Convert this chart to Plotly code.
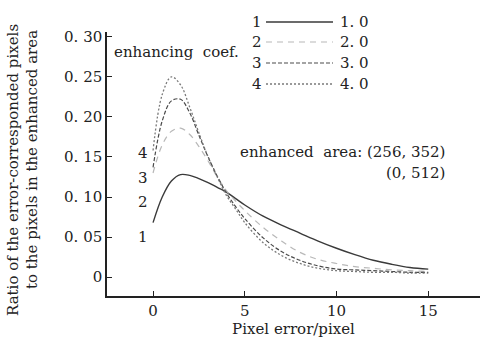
import plotly.graph_objects as go

# ---- data ----
x_vals = [0, 0.5, 1, 1.5, 2, 2.5, 3, 3.5, 4, 4.5, 5, 6, 7, 8, 9, 10, 11, 12, 13, 14, 15]
coef_labels = ["1. 0", "2. 0", "3. 0", "4. 0"]
curve_ids = ["1", "2", "3", "4"]
y_coef1 = [0.068, 0.100, 0.120, 0.128, 0.127, 0.123, 0.118, 0.112, 0.106, 0.098, 0.090,
           0.076, 0.065, 0.055, 0.045, 0.036, 0.028, 0.021, 0.016, 0.012, 0.010]
y_coef2 = [0.130, 0.165, 0.182, 0.186, 0.178, 0.163, 0.145, 0.125, 0.108, 0.095, 0.083,
           0.062, 0.045, 0.031, 0.022, 0.017, 0.013, 0.011, 0.009, 0.008, 0.007]
y_coef3 = [0.137, 0.195, 0.220, 0.222, 0.205, 0.177, 0.150, 0.126, 0.105, 0.088, 0.073,
           0.049, 0.032, 0.021, 0.014, 0.010, 0.009, 0.008, 0.007, 0.006, 0.006]
y_coef4 = [0.158, 0.228, 0.250, 0.240, 0.212, 0.180, 0.150, 0.125, 0.102, 0.085, 0.068,
           0.043, 0.027, 0.017, 0.011, 0.008, 0.007, 0.006, 0.006, 0.005, 0.005]
label_y = [0.050, 0.094, 0.124, 0.155]   # positions of the curve numbers at the left
y_ticks = [0, 0.05, 0.10, 0.15, 0.20, 0.25, 0.30]
y_ticktext = ["0", "0. 05", "0. 10", "0. 15", "0. 20", "0. 25", "0. 30"]
x_ticks = [0, 5, 10, 15]

series = [y_coef1, y_coef2, y_coef3, y_coef4]
styles = [
    dict(color="#3a3a3a", dash="solid", width=1.4),
    dict(color="#b8b8b8", dash="6px,5px", width=1.2),
    dict(color="#4a4a4a", dash="4px,2px", width=1.2),
    dict(color="#7a7a7a", dash="2px,2px", width=1.3),
]

FONT = "DejaVu Serif, Liberation Serif, serif"
W, H = 484, 347
L, R, T, B = 107, 4, 32, 51

def px(x):  # pixel x -> paper
    return (x - L) / (W - L - R)

def py(y):  # pixel y -> paper
    return (H - B - y) / (H - T - B)

fig = go.Figure()
for ys, st, cid in zip(series, styles, curve_ids):
    fig.add_trace(go.Scatter(x=x_vals, y=ys, mode="lines", line=dict(shape="spline", **st),
                             name=cid, showlegend=False, hoverinfo="skip"))

annotations = []
for cid, ly in zip(curve_ids, label_y):
    annotations.append(dict(x=-0.15, y=ly, xref="x", yref="y", text=cid, showarrow=False,
                            xanchor="right", yanchor="middle", font=dict(size=15)))

rows = [22, 42, 63, 84]
shapes = []
for i, (cid, lab, st) in enumerate(zip(curve_ids, coef_labels, styles)):
    yy = py(rows[i])
    annotations.append(dict(x=px(264), y=yy, xref="paper", yref="paper", text=cid,
                            showarrow=False, xanchor="right", yanchor="middle", font=dict(size=15)))
    annotations.append(dict(x=px(338), y=yy, xref="paper", yref="paper", text=lab,
                            showarrow=False, xanchor="left", yanchor="middle", font=dict(size=15)))
    shapes.append(dict(type="line", xref="paper", yref="paper", x0=px(266), x1=px(333),
                       y0=yy, y1=yy, line=dict(color=st["color"], dash=st["dash"], width=st["width"])))

annotations.append(dict(x=px(112), y=py(52), xref="paper", yref="paper", text="enhancing  coef.",
                        showarrow=False, xanchor="left", yanchor="middle", font=dict(size=15)))
annotations.append(dict(x=px(447), y=py(152), xref="paper", yref="paper",
                        text="enhanced  area: (256, 352)", showarrow=False,
                        xanchor="right", yanchor="middle", font=dict(size=15)))
annotations.append(dict(x=px(447), y=py(173), xref="paper", yref="paper",
                        text="(0, 512)", showarrow=False,
                        xanchor="right", yanchor="middle", font=dict(size=15)))
annotations.append(dict(x=px(13), y=py(170), xref="paper", yref="paper",
                        text="Ratio of the error-corresponded pixels", textangle=-90,
                        showarrow=False, xanchor="center", yanchor="middle", font=dict(size=15)))
annotations.append(dict(x=px(32), y=py(160), xref="paper", yref="paper",
                        text="to the pixels in the enhanced area", textangle=-90,
                        showarrow=False, xanchor="center", yanchor="middle", font=dict(size=15)))

fig.update_layout(
    width=W, height=H,
    margin=dict(l=L, r=R, t=T, b=B, pad=0),
    paper_bgcolor="white", plot_bgcolor="white",
    font=dict(family=FONT, size=15, color="#222"),
    annotations=annotations, shapes=shapes,
    xaxis=dict(range=[-2.51, 17.82], tickvals=x_ticks, ticks="inside", ticklen=5,
               tickcolor="#222", showline=True, linecolor="#222", linewidth=1.5,
               showgrid=False, zeroline=False, tickfont=dict(size=15),
               title=dict(text="Pixel error/pixel", font=dict(size=15), standoff=4)),
    yaxis=dict(range=[-0.0236, 0.306], tickvals=y_ticks, ticktext=y_ticktext,
               ticks="inside", ticklen=5, tickcolor="#222", showline=True,
               linecolor="#222", linewidth=1.5, showgrid=False, zeroline=False,
               tickfont=dict(size=15)),
)

fig.write_html("out.html")
